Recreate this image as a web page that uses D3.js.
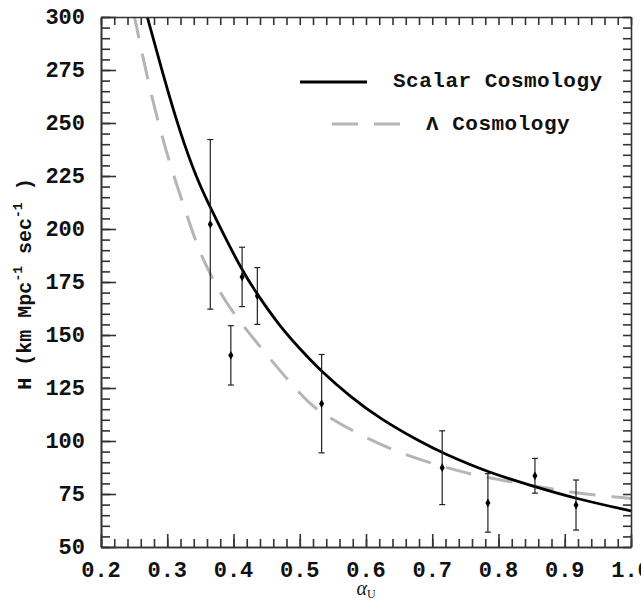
<!DOCTYPE html>
<html>
<head>
<meta charset="utf-8">
<script src="https://cdn.jsdelivr.net/npm/d3@7"></script>
<style>
  body { margin: 0; background: #fff; }
  svg { display: block; }
  .tick-label { font-family: "Liberation Mono", "DejaVu Sans Mono", monospace; font-weight: bold; fill: #111; }
</style>
</head>
<body>
<div id="chart"></div>
<script>
// Observed H(z) points: alpha_U, H, error
const obsAlpha = [0.365, 0.396, 0.413, 0.436, 0.533, 0.715, 0.784, 0.855, 0.917];
const obsH     = [202.2, 140.4, 177.4, 168.4, 117.6, 87.4, 70.8, 83.6, 69.8];
const obsErr   = [40.0, 14.0, 14.0, 13.4, 23.2, 17.4, 13.8, 8.2, 11.8];

// Scalar cosmology curve
const scalarAlpha = [0.268, 0.2705, 0.2966, 0.319, 0.344, 0.366, 0.385, 0.412, 0.435, 0.469, 0.500, 0.533, 0.576, 0.621, 0.682, 0.715, 0.784, 0.855, 0.917, 1.0];
const scalarH     = [302.0, 299.4, 269.5, 245.9, 224.0, 209.5, 197.5, 181.0, 169.5, 154.5, 143.5, 132.7, 121.0, 110.5, 99.6, 94.4, 85.2, 78.4, 72.8, 67.0];

// Lambda cosmology curve
const lambdaAlpha = [0.249, 0.251, 0.271, 0.290, 0.309, 0.334, 0.344, 0.357, 0.372, 0.385, 0.405, 0.503, 0.533, 0.591, 0.651, 0.715, 0.772, 0.855, 0.917, 1.0];
const lambdaH     = [302.0, 299.4, 269.5, 245.9, 225.5, 202.6, 193.2, 183.7, 174.4, 167.5, 157.7, 120.6, 113.0, 102.8, 94.2, 87.9, 83.2, 78.8, 75.3, 72.9];

// Axis ticks
const xTicks = [0.2, 0.3, 0.4, 0.5, 0.6, 0.7, 0.8, 0.9, 1.0];
const xTickLabels = ["0.2", "0.3", "0.4", "0.5", "0.6", "0.7", "0.8", "0.9", "1.0"];
const yTicks = [50, 75, 100, 125, 150, 175, 200, 225, 250, 275, 300];
const yTickLabels = ["50", "75", "100", "125", "150", "175", "200", "225", "250", "275", "300"];

const legendLabels = ["Scalar Cosmology", "\u039B Cosmology"];

const width = 641, height = 600;
const margin = { top: 17, right: 10, bottom: 53, left: 101 };
const plotW = 631 - margin.left;
const plotH = 547 - margin.top;

const svg = d3.select("#chart").append("svg")
  .attr("width", width)
  .attr("height", height);

const x = d3.scaleLinear().domain([0.2, 1.0]).range([margin.left, margin.left + plotW]);
const y = d3.scaleLinear().domain([50, 300]).range([margin.top + plotH, margin.top]);

// clip for the curves
svg.append("clipPath").attr("id", "plot-clip")
  .append("rect")
  .attr("x", margin.left).attr("y", margin.top)
  .attr("width", plotW).attr("height", plotH);

// Function to draw the curves
function drawCurves() {
  const line = d3.line()
    .x(d => x(d[0]))
    .y(d => y(d[1]))
    .curve(d3.curveBasis);

  const lambdaData = lambdaAlpha.map((a, i) => [a, lambdaH[i]]);
  const scalarData = scalarAlpha.map((a, i) => [a, scalarH[i]]);

  const g = svg.append("g").attr("clip-path", "url(#plot-clip)");

  g.append("path")
    .datum(lambdaData)
    .attr("d", line)
    .attr("fill", "none")
    .attr("stroke", "#b5b5b5")
    .attr("stroke-width", 3)
    .attr("stroke-dasharray", "26,16");

  g.append("path")
    .datum(scalarData)
    .attr("d", line)
    .attr("fill", "none")
    .attr("stroke", "#000")
    .attr("stroke-width", 2.8);
}

// Function to draw the data points with error bars
function drawPoints() {
  const g = svg.append("g");
  const cap = 3;

  obsAlpha.forEach((a, i) => {
    const cx = x(a);
    const top = y(obsH[i] + obsErr[i]);
    const bot = y(obsH[i] - obsErr[i]);

    g.append("line")
      .attr("x1", cx).attr("x2", cx)
      .attr("y1", top).attr("y2", bot)
      .attr("stroke", "#222").attr("stroke-width", 1.2);
    g.append("line")
      .attr("x1", cx - cap).attr("x2", cx + cap)
      .attr("y1", top).attr("y2", top)
      .attr("stroke", "#222").attr("stroke-width", 1.2);
    g.append("line")
      .attr("x1", cx - cap).attr("x2", cx + cap)
      .attr("y1", bot).attr("y2", bot)
      .attr("stroke", "#222").attr("stroke-width", 1.2);

    g.append("path")
      .attr("d", d3.symbol().type(d3.symbolDiamond).size(22))
      .attr("transform", `translate(${cx},${y(obsH[i])})`)
      .attr("fill", "#000");
  });
}

// Function to draw axes with inward ticks on all four sides
function drawAxes() {
  const axisColor = "#333";
  const minorX = d3.range(0.2, 1.0001, 0.02);
  const minorY = d3.range(50, 300.001, 5);

  // bottom axis
  svg.append("g")
    .attr("transform", `translate(0,${margin.top + plotH})`)
    .call(d3.axisBottom(x).tickValues(minorX).tickSizeInner(-8).tickSizeOuter(0).tickFormat(""));
  svg.append("g")
    .attr("transform", `translate(0,${margin.top + plotH})`)
    .call(d3.axisBottom(x).tickValues(xTicks).tickSizeInner(-13).tickSizeOuter(0).tickFormat(""));

  // top axis
  svg.append("g")
    .attr("transform", `translate(0,${margin.top})`)
    .call(d3.axisTop(x).tickValues(minorX).tickSizeInner(-8).tickSizeOuter(0).tickFormat(""));

  // left axis
  svg.append("g")
    .attr("transform", `translate(${margin.left},0)`)
    .call(d3.axisLeft(y).tickValues(minorY).tickSizeInner(-9).tickSizeOuter(0).tickFormat(""));
  svg.append("g")
    .attr("transform", `translate(${margin.left},0)`)
    .call(d3.axisLeft(y).tickValues(yTicks).tickSizeInner(-15).tickSizeOuter(0).tickFormat(""));

  // right axis
  svg.append("g")
    .attr("transform", `translate(${margin.left + plotW},0)`)
    .call(d3.axisRight(y).tickValues(minorY).tickSizeInner(-8).tickSizeOuter(0).tickFormat(""));

  svg.selectAll(".domain").attr("stroke", axisColor).attr("stroke-width", 1.6);
  svg.selectAll(".tick line").attr("stroke", axisColor).attr("stroke-width", 1.6);

  // tick labels
  svg.append("g").selectAll("text")
    .data(xTicks)
    .enter()
    .append("text")
    .attr("class", "tick-label")
    .attr("x", d => x(d))
    .attr("y", 577)
    .attr("text-anchor", "middle")
    .attr("font-size", 22)
    .text((d, i) => xTickLabels[i]);

  svg.append("g").selectAll("text")
    .data(yTicks)
    .enter()
    .append("text")
    .attr("class", "tick-label")
    .attr("x", 85)
    .attr("y", d => y(d))
    .attr("dy", "0.33em")
    .attr("text-anchor", "end")
    .attr("font-size", 22)
    .text((d, i) => yTickLabels[i]);

  // y axis title
  const yt = svg.append("text")
    .attr("class", "tick-label")
    .attr("transform", "translate(31,284) rotate(-90)")
    .attr("text-anchor", "middle")
    .attr("font-size", 20);
  yt.append("tspan").text("H (km Mpc");
  yt.append("tspan").attr("font-size", 13).attr("dy", -9).text("-1");
  yt.append("tspan").attr("dy", 9).text(" sec");
  yt.append("tspan").attr("font-size", 13).attr("dy", -9).text("-1");
  yt.append("tspan").attr("dy", 9).text(" )");

  // x axis title
  const xt = svg.append("text")
    .attr("x", x(0.6))
    .attr("y", 595)
    .attr("text-anchor", "middle")
    .attr("font-family", "'Liberation Serif', serif")
    .attr("fill", "#111");
  xt.append("tspan").attr("font-style", "italic").attr("font-size", 20).text("\u03B1");
  xt.append("tspan").attr("font-size", 12).attr("dy", 3).text("U");
}

// Function to draw the legend
function drawLegend() {
  const g = svg.append("g");
  g.append("line")
    .attr("x1", 300).attr("x2", 367).attr("y1", 82).attr("y2", 82)
    .attr("stroke", "#000").attr("stroke-width", 2.8);
  g.append("line")
    .attr("x1", 332).attr("x2", 400).attr("y1", 124).attr("y2", 124)
    .attr("stroke", "#b5b5b5").attr("stroke-width", 3)
    .attr("stroke-dasharray", "26,16");

  g.append("text").attr("class", "tick-label")
    .attr("x", 393).attr("y", 87)
    .attr("font-size", 21)
    .attr("letter-spacing", 0.5)
    .text(legendLabels[0]);
  g.append("text").attr("class", "tick-label")
    .attr("x", 426).attr("y", 130)
    .attr("font-size", 21)
    .attr("letter-spacing", 0.5)
    .text(legendLabels[1]);
}

drawCurves();
drawPoints();
drawAxes();
drawLegend();
</script>
</body>
</html>
